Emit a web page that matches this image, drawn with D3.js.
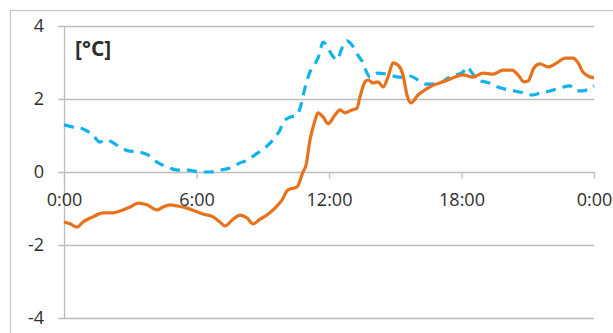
<!DOCTYPE html>
<html>
<head>
<meta charset="utf-8">
<script src="https://cdn.jsdelivr.net/npm/d3@7"></script>
<style>
  html, body { margin: 0; padding: 0; background: #fff; }
  svg { display: block; }
  text { font-family: "Open Sans", "DejaVu Sans", sans-serif; fill: #2e2e2e; }
</style>
</head>
<body>
<svg id="chart" width="613" height="333"></svg>
<script>
// Hour of day and temperature [°C] for each series
const orangeHours = [0, 0.27, 0.59, 0.86, 1.31, 1.77, 2.22, 2.67, 2.99, 3.35, 3.76, 4.21, 4.48, 4.8, 5.12, 5.57, 5.93, 6.29, 6.75, 7.06, 7.29, 7.61, 7.97, 8.29, 8.56, 8.88, 9.19, 9.55, 9.87, 10.14, 10.55, 10.82, 10.96, 11.14, 11.37, 11.5, 11.73, 11.96, 12.27, 12.5, 12.72, 13.04, 13.27, 13.4, 13.63, 13.77, 13.99, 14.22, 14.45, 14.67, 14.9, 15.12, 15.35, 15.53, 15.71, 16.03, 16.35, 16.66, 17.16, 17.62, 18.07, 18.52, 18.97, 19.43, 19.88, 20.29, 20.56, 20.83, 21.01, 21.28, 21.55, 21.92, 22.32, 22.69, 23.05, 23.28, 23.5, 23.73, 24];
const orangeValues = [-1.37, -1.42, -1.51, -1.37, -1.23, -1.12, -1.12, -1.04, -0.96, -0.85, -0.9, -1.04, -0.96, -0.9, -0.93, -0.99, -1.07, -1.15, -1.23, -1.37, -1.48, -1.32, -1.18, -1.26, -1.42, -1.29, -1.18, -0.99, -0.77, -0.49, -0.41, 0.0, 0.19, 0.88, 1.42, 1.62, 1.51, 1.32, 1.56, 1.7, 1.62, 1.7, 1.75, 2.05, 2.47, 2.52, 2.44, 2.47, 2.33, 2.6, 2.99, 2.93, 2.66, 2.11, 1.89, 2.11, 2.25, 2.36, 2.47, 2.58, 2.66, 2.6, 2.71, 2.68, 2.79, 2.79, 2.66, 2.47, 2.49, 2.85, 2.96, 2.88, 2.99, 3.12, 3.12, 2.99, 2.74, 2.63, 2.58];

const blueHours = [0, 0.41, 0.86, 1.31, 1.63, 1.86, 2.08, 2.54, 2.9, 3.35, 3.8, 4.21, 4.66, 5.16, 5.62, 6.16, 6.61, 7.06, 7.52, 7.97, 8.33, 8.65, 8.97, 9.33, 9.6, 9.78, 9.92, 10.23, 10.55, 10.69, 10.91, 11.14, 11.37, 11.55, 11.73, 11.86, 12.14, 12.36, 12.59, 12.81, 13.04, 13.31, 13.54, 13.72, 13.86, 14.2, 14.63, 15.2, 15.67, 16.03, 16.35, 16.66, 17.03, 17.39, 17.75, 18.07, 18.25, 18.48, 18.75, 19.06, 19.38, 19.65, 19.97, 20.42, 20.88, 21.19, 21.55, 22.0, 22.46, 22.91, 23.18, 23.46, 24];
const blueValues = [1.29, 1.23, 1.18, 1.01, 0.82, 0.88, 0.85, 0.68, 0.58, 0.55, 0.47, 0.27, 0.14, 0.05, 0.05, 0.0, 0.0, 0.05, 0.11, 0.25, 0.33, 0.47, 0.6, 0.79, 0.99, 1.15, 1.37, 1.5, 1.56, 1.75, 2.3, 2.74, 2.96, 3.2, 3.56, 3.5, 3.2, 3.07, 3.4, 3.59, 3.48, 3.2, 2.99, 2.71, 2.6, 2.71, 2.68, 2.6, 2.63, 2.52, 2.41, 2.41, 2.44, 2.58, 2.66, 2.74, 2.88, 2.71, 2.52, 2.47, 2.41, 2.33, 2.27, 2.22, 2.16, 2.11, 2.16, 2.22, 2.3, 2.36, 2.22, 2.22, 2.36];

const xTickHours = [0, 6, 12, 18, 24];
const xTickLabels = ["0:00", "6:00", "12:00", "18:00", "0:00"];
const yTicks = [-4, -2, 0, 2, 4];
const unitLabel = "[°C]";

const svg = d3.select("#chart");

// outer chart frame
svg.append("rect")
  .attr("x", 10.5).attr("y", 10.5)
  .attr("width", 800).attr("height", 600)
  .attr("fill", "none").attr("stroke", "#c6c6c6").attr("stroke-width", 1.2);

const x = d3.scaleLinear().domain([0, 24]).range([64, 594]);
const y = d3.scaleLinear().domain([-4, 4]).range([318, 26]);

// horizontal gridlines with outer ticks on the left
const yAxis = d3.axisLeft(y)
  .tickValues(yTicks)
  .tickSize(536)
  .tickFormat(d => d)
  .tickPadding(14);
const gy = svg.append("g").attr("transform", "translate(594,0)").call(yAxis);
gy.select(".domain").remove();
gy.selectAll(".tick line").attr("stroke", "#bdbdbd").attr("stroke-width", 1.3);
gy.selectAll(".tick text")
  .attr("x", -550)
  .style("font-size", "18px")
  .attr("fill", "#2e2e2e");

// vertical axis line
svg.append("line")
  .attr("x1", x(0) + 0.5).attr("x2", x(0) + 0.5)
  .attr("y1", y(4)).attr("y2", y(-4))
  .attr("stroke", "#bdbdbd").attr("stroke-width", 1.3);

// time axis at zero
const xAxis = d3.axisBottom(x)
  .tickValues(xTickHours)
  .tickSize(7)
  .tickPadding(14)
  .tickFormat((d, i) => xTickLabels[i]);
const gx = svg.append("g").attr("transform", `translate(0,${y(0)})`).call(xAxis);
gx.select(".domain").remove();
gx.selectAll(".tick line").attr("stroke", "#bdbdbd").attr("stroke-width", 1.3);
gx.selectAll(".tick text").style("font-size", "18px").attr("fill", "#2e2e2e");

const line = d3.line()
  .x(d => x(d[0]))
  .y(d => y(d[1]))
  .curve(d3.curveMonotoneX);

const blue = blueHours.map((h, i) => [h, blueValues[i]]);
const orange = orangeHours.map((h, i) => [h, orangeValues[i]]);

svg.append("path")
  .datum(blue)
  .attr("d", line)
  .attr("fill", "none")
  .attr("stroke", "#11b2ee")
  .attr("stroke-width", 3.2)
  .attr("stroke-dasharray", "10,7");

svg.append("path")
  .datum(orange)
  .attr("d", line)
  .attr("fill", "none")
  .attr("stroke", "#e8721c")
  .attr("stroke-width", 3.2)
  .attr("stroke-linejoin", "round");

svg.append("text")
  .attr("x", 75).attr("y", 56)
  .style("font-size", "21px")
  .style("font-weight", "bold")
  .attr("fill", "#1e1e1e")
  .text(unitLabel);
</script>
</body>
</html>
